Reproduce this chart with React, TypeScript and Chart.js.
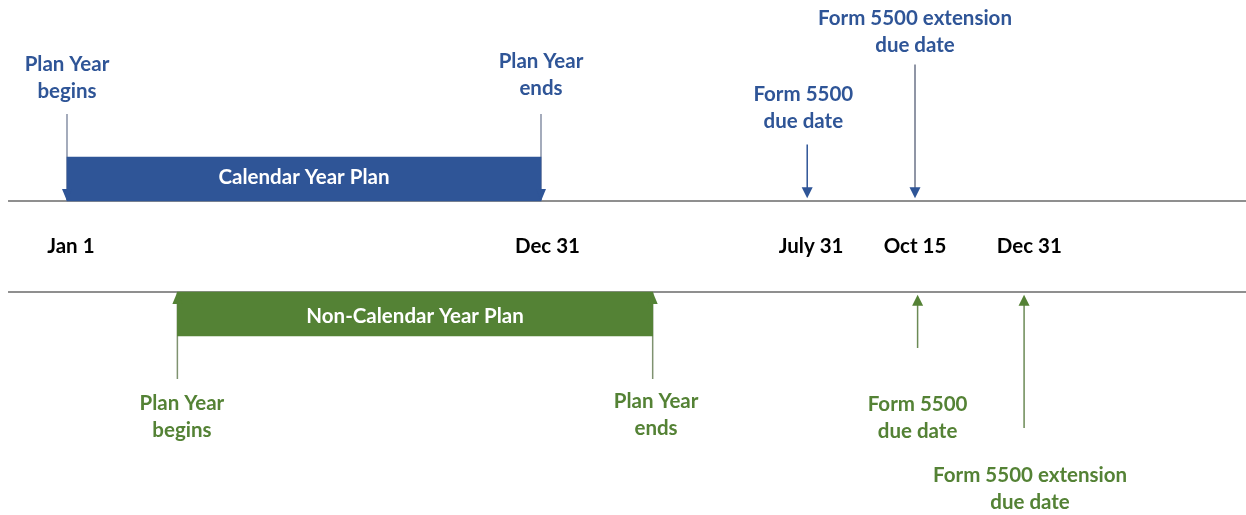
import { useEffect, useRef } from 'react';
import { Chart, registerables } from 'chart.js';

Chart.register(...registerables);

// ---- data (x in days from Jan 1 of the plan year, as drawn) ----
const dateTickLabels = ['Jan 1', 'Dec 31', 'July 31', 'Oct 15', 'Dec 31'];
const dateTickPos = [3, 370, 573, 653, 741];

const planNames = ['Calendar Year Plan', 'Non-Calendar Year Plan'];
const planStart = [0, 85];
const planEnd = [365, 451];

const calendarDueNames = ['Form 5500\ndue date', 'Form 5500 extension\ndue date'];
const calendarDuePos = [570, 653];
const nonCalendarDueNames = ['Form 5500\ndue date', 'Form 5500 extension\ndue date'];
const nonCalendarDuePos = [655, 737];

const planBoundaryNames = ['Plan Year\nbegins', 'Plan Year\nends'];

// ---- layout / style ----
const BLUE = '#2F5597';
const GREEN = '#548235';
const AXIS_GRAY = '#8f8f8f';
const X_MIN = -51.59;
const X_MAX = 907.88;
const Y_MIN = -5.901;
const Y_MAX = 5.418;
const FONT = 'bold 20.5px Lato';
const LINE_H = 27;

type Label = { text: string; x: number; y: number; color: string; line: number };

export default function App() {
  const ref = useRef<HTMLCanvasElement | null>(null);

  useEffect(() => {
    if (!ref.current) return;

    const lanes = [
      {
        sign: 1, color: BLUE, stem: '#8791a6', dueStem: [BLUE, '#6b7388'], due: calendarDuePos, dueNames: calendarDueNames,
        dueTail: [2.24, 4.0], labelX: [0, 365], labelY: [4.01, 4.077], dueLabelX: [567, 653], dueLabelY: [3.35, 5.02],
      },
      {
        sign: -1, color: GREEN, stem: '#7f9270', dueStem: ['#6b8a55', '#6b8a55'], due: nonCalendarDuePos, dueNames: nonCalendarDueNames,
        dueTail: [2.23, 3.99], labelX: [88.5, 453.6], labelY: [3.44, 3.396], dueLabelX: [655, 741.6], dueLabelY: [3.48, 5.02],
      },
    ];

    const datasets: any[] = [];
    // timeline axis lines
    [1, -1].forEach((yy) => {
      datasets.push({
        type: 'line',
        data: [{ x: -45.4, y: yy }, { x: X_MAX, y: yy }],
        borderColor: AXIS_GRAY,
        borderWidth: 2,
        pointRadius: 0,
        order: 5,
      });
    });

    const heads: { x: number; tail: number; tip: number; color: string; w: number; l: number }[] = [];
    const labels: Label[] = [];

    lanes.forEach((ln, i) => {
      const s = ln.sign;
      // plan boundary stems
      [planStart[i], planEnd[i]].forEach((px, k) => {
        datasets.push({
          type: 'line',
          data: [{ x: px, y: s * 2.912 }, { x: px, y: s * 1.0 }],
          borderColor: ln.stem,
          borderWidth: 1.5,
          pointRadius: 0,
          order: 4,
        });
        heads.push({ x: px, tail: s * 2.0, tip: s * 1.0, color: ln.color, w: 5, l: 12 });
        planBoundaryNames[k].split('\n').forEach((t, j) => {
          labels.push({ text: t, x: ln.labelX[k], y: s * ln.labelY[k], color: ln.color, line: j });
        });
      });
      // plan bar
      datasets.push({
        type: 'bar',
        indexAxis: 'y',
        grouped: false,
        data: [{ x: [planStart[i], planEnd[i]], y: s * 1.484 }],
        backgroundColor: ln.color,
        borderWidth: 0,
        barThickness: 44,
        order: 3,
      });
      labels.push({ text: planNames[i], x: (planStart[i] + planEnd[i]) / 2, y: s * 1.53, color: '#ffffff', line: 0 });
      // due date arrows
      ln.due.forEach((dx, k) => {
        datasets.push({
          type: 'line',
          data: [{ x: dx, y: s * ln.dueTail[k] }, { x: dx, y: s * 1.15 }],
          borderColor: ln.dueStem[k],
          borderWidth: 1.5,
          pointRadius: 0,
          order: 4,
        });
        heads.push({ x: dx, tail: s * 2.0, tip: s * 1.06, color: ln.color, w: 5.5, l: 11 });
        ln.dueNames[k].split('\n').forEach((t, j) => {
          labels.push({ text: t, x: ln.dueLabelX[k], y: s * ln.dueLabelY[k], color: ln.color, line: j });
        });
      });
    });

    dateTickLabels.forEach((t, i) => {
      labels.push({ text: t, x: dateTickPos[i], y: 0, color: '#000000', line: 0 });
    });

    const decor = {
      id: 'decor',
      afterDatasetsDraw(chart: any) {
        const { ctx, scales } = chart;
        const xs = scales.x;
        const ys = scales.y;
        ctx.save();
        heads.forEach((h) => {
          const px = xs.getPixelForValue(h.x);
          const tip = ys.getPixelForValue(h.tip);
          const tail = ys.getPixelForValue(h.tail);
          const dir = tip > tail ? 1 : -1;
          ctx.fillStyle = h.color;
          ctx.beginPath();
          ctx.moveTo(px, tip);
          ctx.lineTo(px - h.w, tip - dir * h.l);
          ctx.lineTo(px + h.w, tip - dir * h.l);
          ctx.closePath();
          ctx.fill();
        });
        ctx.font = FONT;
        ctx.textAlign = 'center';
        ctx.textBaseline = 'middle';
        labels.forEach((lb) => {
          ctx.fillStyle = lb.color;
          ctx.fillText(lb.text, xs.getPixelForValue(lb.x), ys.getPixelForValue(lb.y) + lb.line * LINE_H);
        });
        ctx.restore();
      },
    };

    const chart = new Chart(ref.current, {
      type: 'scatter',
      data: { datasets },
      options: {
        animation: false,
        responsive: true,
        maintainAspectRatio: false,
        layout: { padding: 0 },
        plugins: { legend: { display: false }, tooltip: { enabled: false } },
        scales: {
          x: { type: 'linear', min: X_MIN, max: X_MAX, display: false, offset: false, grace: 0 },
          y: { type: 'linear', min: Y_MIN, max: Y_MAX, display: false, offset: false, grace: 0 },
        },
      } as any,
      plugins: [decor],
    });
    return () => chart.destroy();
  }, []);

  return (
    <div style={{ position: 'fixed', left: 0, top: 0, width: 1246, height: 515, background: '#ffffff' }}>
      <canvas ref={ref} />
    </div>
  );
}
